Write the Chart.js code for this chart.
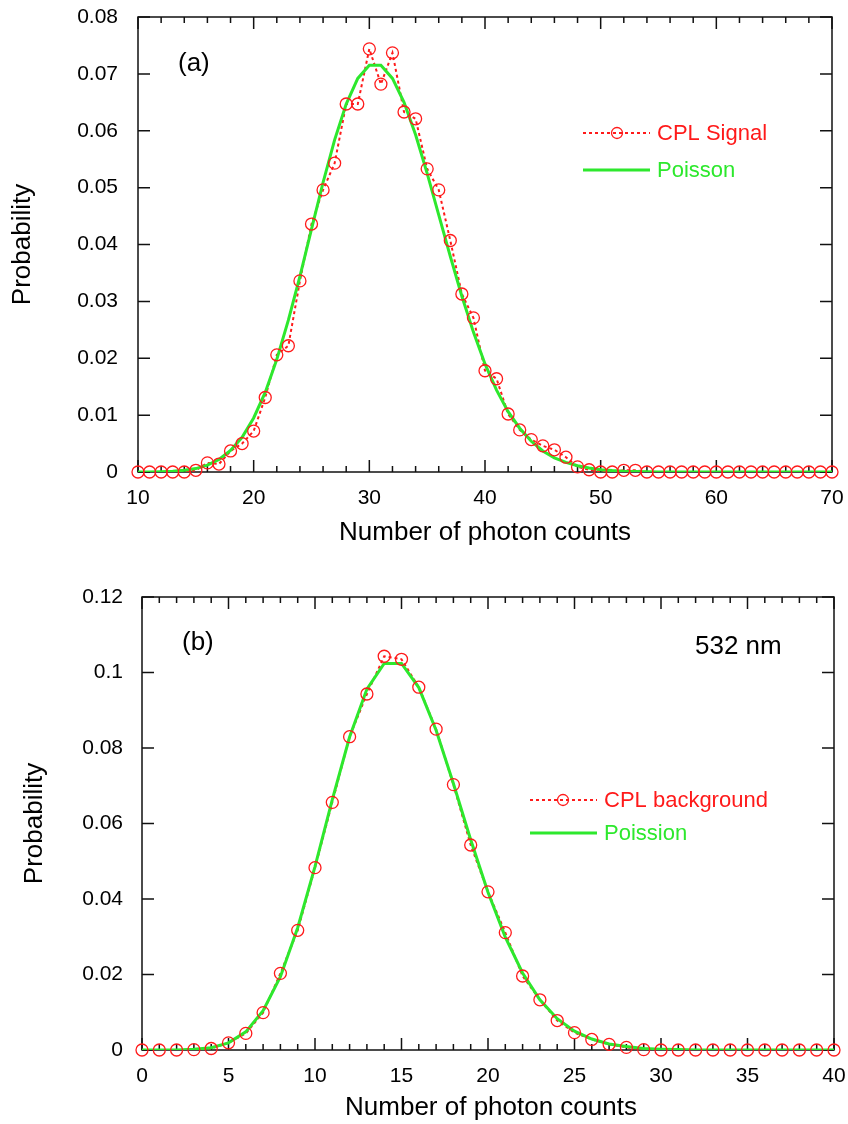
<!DOCTYPE html>
<html>
<head>
<meta charset="utf-8">
<script src="https://cdn.jsdelivr.net/npm/chart.js@4.4.1/dist/chart.umd.min.js"></script>
<style>
  body { margin: 0; background: #fff; }
  #wrapA { position: absolute; left: 0; top: 0; width: 848px; height: 560px; }
  #wrapB { position: absolute; left: 0; top: 560px; width: 848px; height: 564px; }
</style>
</head>
<body>
<div id="wrapA"><canvas id="chartA" width="848" height="560"></canvas></div>
<div id="wrapB"><canvas id="chartB" width="848" height="564"></canvas></div>
<script>
// (a) CPL signal
var countsA = [10, 11, 12, 13, 14, 15, 16, 17, 18, 19, 20, 21, 22, 23, 24, 25, 26, 27, 28, 29,
               30, 31, 32, 33, 34, 35, 36, 37, 38, 39, 40, 41, 42, 43, 44, 45, 46, 47, 48, 49,
               50, 51, 52, 53, 54, 55, 56, 57, 58, 59, 60, 61, 62, 63, 64, 65, 66, 67, 68, 69, 70];
var signalA = [0, 0, 0, 0, 0, 0.0003, 0.0016, 0.0014, 0.0037, 0.0050,
               0.0072, 0.0131, 0.0206, 0.0222, 0.0336, 0.0436, 0.0496, 0.0543, 0.0647, 0.0647,
               0.0744, 0.0682, 0.0737, 0.0633, 0.0621, 0.0533, 0.0496, 0.0407, 0.0313, 0.0271,
               0.0178, 0.0164, 0.0102, 0.0074, 0.0057, 0.0046, 0.0039, 0.0026, 0.0009, 0.0004,
               0, 0, 0.0003, 0.0003, 0, 0, 0, 0, 0, 0,
               0, 0, 0, 0, 0, 0, 0, 0, 0, 0, 0];
var poissonA = [0, 0.00001, 0.00006, 0.00014, 0.0003, 0.0006, 0.0012, 0.0022, 0.0038, 0.0061,
                0.0095, 0.0140, 0.0198, 0.0267, 0.0344, 0.0427, 0.0509, 0.0584, 0.0647, 0.0692,
                0.0715, 0.0715, 0.0692, 0.0650, 0.0593, 0.0525, 0.0452, 0.0379, 0.0309, 0.0246,
                0.0190, 0.0144, 0.0106, 0.0077, 0.0054, 0.0037, 0.0025, 0.0017, 0.0011, 0.0007,
                0.0004, 0.00025, 0.00015, 0.0001, 0.00005, 0, 0, 0, 0, 0,
                0, 0, 0, 0, 0, 0, 0, 0, 0, 0, 0];

// (b) CPL background, 532 nm
var countsB = [0, 1, 2, 3, 4, 5, 6, 7, 8, 9, 10, 11, 12, 13, 14, 15, 16, 17, 18, 19, 20,
               21, 22, 23, 24, 25, 26, 27, 28, 29, 30, 31, 32, 33, 34, 35, 36, 37, 38, 39, 40];
var signalB = [0, 0, 0, 0.0001, 0.0004, 0.0019, 0.0044, 0.0099, 0.0203, 0.0317,
               0.0483, 0.0656, 0.0830, 0.0943, 0.1043, 0.1035, 0.0961, 0.0850, 0.0703, 0.0543,
               0.0419, 0.0311, 0.0196, 0.0133, 0.0078, 0.0046, 0.0028, 0.0015, 0.0007, 0.0001,
               0, 0, 0, 0, 0, 0, 0, 0, 0, 0, 0];
var poissonB = [0, 0, 0.00003, 0.0002, 0.0006, 0.0019, 0.0048, 0.0104, 0.0194, 0.0324,
                0.0486, 0.0663, 0.0829, 0.0956, 0.1024, 0.1024, 0.0960, 0.0847, 0.0706, 0.0557,
                0.0418, 0.0299, 0.0204, 0.0133, 0.0083, 0.0050, 0.0029, 0.0016, 0.0009, 0.0004,
                0.0002, 0.0001, 0, 0, 0, 0, 0, 0, 0, 0, 0];

var RED = '#ff1a1a';
var GREEN = '#2de82d';
var FONT = '"Liberation Sans", Arial, sans-serif';

function pts(xs, ys) {
  return xs.map(function(x, i) { return { x: x, y: ys[i] }; });
}

function isMajor(v, step) {
  return Math.abs(v / step - Math.round(v / step)) < 1e-6;
}

// keep the plot box where we put it, labels may hang over the padding
function noPad(s) {
  s.paddingTop = 0; s.paddingBottom = 0; s.paddingLeft = 0; s.paddingRight = 0;
}

var framePlugin = {
  id: 'frame',
  beforeDatasetsDraw: function(chart, args, o) {
    var ctx = chart.ctx, a = chart.chartArea;
    var xs = chart.scales.x, ys = chart.scales.y;
    ctx.save();
    ctx.strokeStyle = '#111';
    ctx.lineWidth = 1.5;
    ctx.strokeRect(a.left, a.top, a.right - a.left, a.bottom - a.top);
    ctx.beginPath();
    for (var v = xs.min; v <= xs.max + 1e-9; v += o.xMinor) {
      var px = xs.getPixelForValue(v);
      var len = isMajor(v, o.xMajor) ? 12 : 6;
      ctx.moveTo(px, a.bottom); ctx.lineTo(px, a.bottom - len);
      ctx.moveTo(px, a.top); ctx.lineTo(px, a.top + len);
    }
    for (var w = ys.min; w <= ys.max + 1e-9; w += o.yStep) {
      var py = ys.getPixelForValue(w);
      ctx.moveTo(a.left, py); ctx.lineTo(a.left + 12, py);
      ctx.moveTo(a.right, py); ctx.lineTo(a.right - 12, py);
    }
    ctx.stroke();
    ctx.restore();
  },
  afterDraw: function(chart, args, o) {
    var ctx = chart.ctx, a = chart.chartArea;
    ctx.save();
    ctx.fillStyle = '#000';
    ctx.font = '26px ' + FONT;
    ctx.textAlign = 'center';
    ctx.textBaseline = 'middle';
    ctx.fillText('Number of photon counts', (a.left + a.right) / 2 + o.xTitleDx, a.bottom + o.xTitleDy);
    ctx.save();
    ctx.translate(o.yTitleX, (a.top + a.bottom) / 2);
    ctx.rotate(-Math.PI / 2);
    ctx.fillText('Probability', 0, 0);
    ctx.restore();

    ctx.textAlign = 'left';
    o.notes.forEach(function(n) {
      ctx.fillText(n.text, n.x, n.y);
    });

    ctx.font = '22px ' + FONT;
    o.legend.forEach(function(item) {
      ctx.strokeStyle = item.color;
      ctx.lineWidth = item.dashed ? 2 : 3;
      ctx.setLineDash(item.dashed ? [3, 3] : []);
      ctx.beginPath();
      ctx.moveTo(item.x1, item.y);
      ctx.lineTo(item.x2, item.y);
      ctx.stroke();
      ctx.setLineDash([]);
      if (item.marker) {
        ctx.lineWidth = 1.3;
        ctx.beginPath();
        ctx.arc(item.marker, item.y, 5.5, 0, Math.PI * 2);
        ctx.stroke();
      }
      ctx.fillStyle = item.color;
      ctx.fillText(item.label, item.x2 + 7, item.y + 1);
    });
    ctx.restore();
  }
};

function makeChart(id, xs, sig, poi, sc, fr) {
  return new Chart(document.getElementById(id).getContext('2d'), {
    type: 'line',
    data: {
      datasets: [
        { data: pts(xs, sig), borderColor: RED, borderWidth: 2, borderDash: [3, 3],
          pointRadius: 0, fill: false, tension: 0, order: 3 },
        { data: pts(xs, poi), borderColor: GREEN, borderWidth: 3,
          pointRadius: 0, fill: false, tension: 0, order: 2 },
        { data: pts(xs, sig), showLine: false, borderColor: RED, pointBorderColor: RED,
          pointBackgroundColor: 'rgba(0,0,0,0)', pointRadius: 6, pointBorderWidth: 1.3,
          clip: false, order: 1 }
      ]
    },
    options: {
      responsive: false,
      animation: false,
      events: [],
      layout: { padding: { top: sc.padTop, right: sc.padRight, left: 0, bottom: 0 } },
      plugins: { legend: { display: false }, tooltip: { enabled: false }, frame: fr },
      scales: {
        x: {
          type: 'linear', min: sc.xMin, max: sc.xMax,
          grid: { display: false, drawTicks: false }, border: { display: false },
          ticks: { stepSize: sc.xStep, padding: 14, maxRotation: 0, color: '#000', font: { family: FONT, size: 21 } },
          afterFit: function(s) { s.height = sc.xHeight; noPad(s); }
        },
        y: {
          min: 0, max: sc.yMax,
          grid: { display: false, drawTicks: false }, border: { display: false },
          ticks: { stepSize: sc.yStep, padding: sc.yPad, color: '#000', font: { family: FONT, size: 21 },
                   callback: function(v) { return String(Number(v.toFixed(2))); } },
          afterFit: function(s) { s.width = sc.yWidth; noPad(s); }
        }
      }
    },
    plugins: [framePlugin]
  });
}

makeChart('chartA', countsA, signalA, poissonA,
  { xMin: 10, xMax: 70, xStep: 10, yMax: 0.08, yStep: 0.01, padTop: 17, padRight: 16,
    xHeight: 88, yWidth: 138, yPad: 20 },
  { xMinor: 2, xMajor: 10, yStep: 0.01, xTitleDx: 0, xTitleDy: 61, yTitleX: 23,
    notes: [{ text: '(a)', x: 178, y: 64 }],
    legend: [
      { label: 'CPL Signal', color: RED, dashed: true, x1: 583, x2: 650, y: 133, marker: 617 },
      { label: 'Poisson', color: GREEN, dashed: false, x1: 583, x2: 650, y: 170 }
    ] });

makeChart('chartB', countsB, signalB, poissonB,
  { xMin: 0, xMax: 40, xStep: 5, yMax: 0.12, yStep: 0.02, padTop: 37, padRight: 14,
    xHeight: 74, yWidth: 142, yPad: 19 },
  { xMinor: 1, xMajor: 5, yStep: 0.02, xTitleDx: 3, xTitleDy: 58, yTitleX: 35,
    notes: [{ text: '(b)', x: 182, y: 83 }, { text: '532 nm', x: 695, y: 87 }],
    legend: [
      { label: 'CPL background', color: RED, dashed: true, x1: 530, x2: 597, y: 240, marker: 563 },
      { label: 'Poission', color: GREEN, dashed: false, x1: 530, x2: 597, y: 273 }
    ] });
</script>
</body>
</html>
